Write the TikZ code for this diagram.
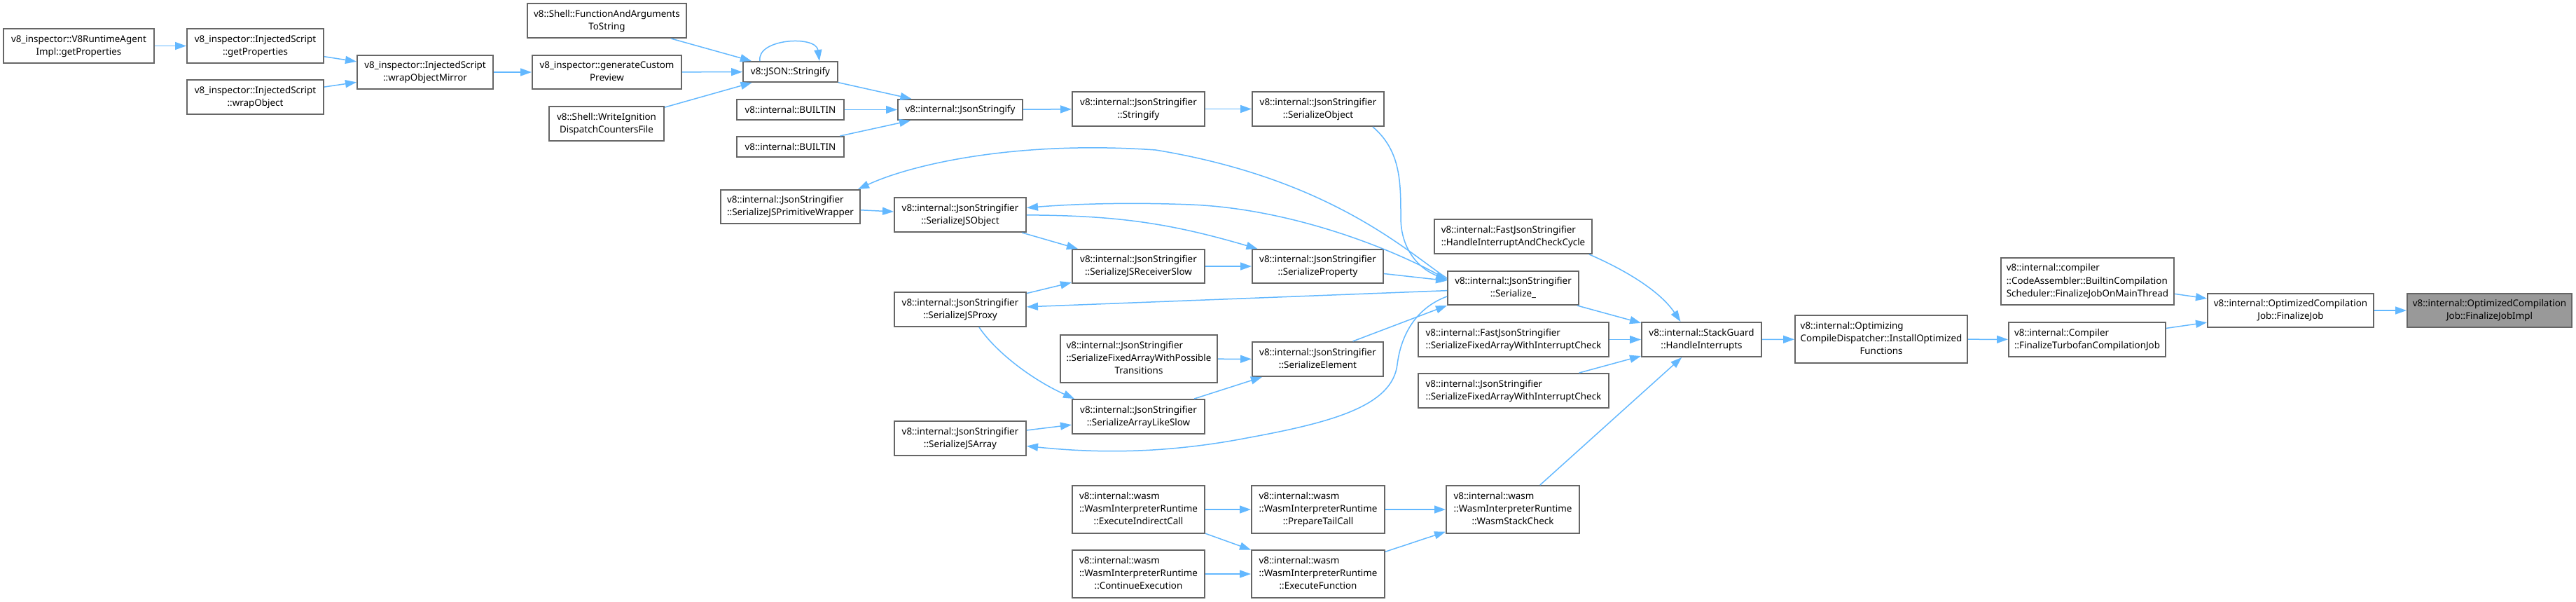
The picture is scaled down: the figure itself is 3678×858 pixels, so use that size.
\documentclass[tikz,border=0pt]{standalone}
\usepackage{fontspec}
\setmainfont{Noto Sans}
\usetikzlibrary{arrows.meta,calc}
\definecolor{edgec}{HTML}{63B8FF}
\definecolor{bord}{HTML}{666666}
\definecolor{hil}{HTML}{999999}
\newcommand\tl[2]{\begin{tabular}{@{}l@{}}#1\\\multicolumn{1}{@{}c@{}}{#2}\end{tabular}}
\newcommand\thl[3]{\begin{tabular}{@{}l@{}}#1\\#2\\\multicolumn{1}{@{}c@{}}{#3}\end{tabular}}
\newcommand\nd[7][]{\node[dbox,#1,minimum width={(#5-#3)*0.5pt},minimum height={(#6-#4)*0.5pt}] (#2) at ({(#3+#5)/2},{(#4+#6)/2}) {#7};}
\begin{document}
\begin{tikzpicture}[x=0.5pt,y=-0.5pt,
  dbox/.style={draw=bord,line width=1pt,fill=white,inner sep=0pt,font=\fontsize{6.7pt}{9.15pt}\selectfont},
  edg/.style={draw=edgec,line width=0.75pt,-{Triangle[length=8pt,width=5.5pt]}}]
\useasboundingbox (0,0) rectangle (3678,858);
% nodes
\nd{A1}{5}{41}{220}{90}{\tl{v8\_inspector::V8RuntimeAgent}{Impl::getProperties}}
\nd{B1}{267}{41}{462}{90}{\tl{v8\_inspector::InjectedScript}{::getProperties}}
\nd{B2}{267}{114}{462}{163}{\tl{v8\_inspector::InjectedScript}{::wrapObject}}
\nd{C}{510}{79}{704}{127}{\tl{v8\_inspector::InjectedScript}{::wrapObjectMirror}}
\nd{D}{760}{79}{973}{127}{\tl{v8\_inspector::generateCustom}{Preview}}
\nd{F1}{753}{5}{980}{54}{\tl{v8::Shell::FunctionAndArguments}{ToString}}
\nd{F2}{784}{152}{948}{201}{\tl{v8::Shell::WriteIgnition}{DispatchCountersFile}}
\nd{J}{1061}{88}{1196}{117}{v8::JSON::Stringify}
\nd{BU1}{1052}{142}{1205}{171}{v8::internal::BUILTIN}
\nd{BU2}{1052}{195}{1205}{224}{v8::internal::BUILTIN}
\nd{JS}{1282}{142}{1460}{171}{v8::internal::JsonStringify}
\nd{ST}{1531}{131}{1720}{180}{\tl{v8::internal::JsonStringifier}{::Stringify}}
\nd{SO}{1788}{131}{1976}{180}{\tl{v8::internal::JsonStringifier}{::SerializeObject}}
\nd{PW}{1029}{271}{1228}{319}{\tl{v8::internal::JsonStringifier}{::SerializeJSPrimitiveWrapper}}
\nd{JO}{1277}{282}{1465}{331}{\tl{v8::internal::JsonStringifier}{::SerializeJSObject}}
\nd{RS}{1531}{356}{1720}{404}{\tl{v8::internal::JsonStringifier}{::SerializeJSReceiverSlow}}
\nd{SP}{1788}{356}{1975}{404}{\tl{v8::internal::JsonStringifier}{::SerializeProperty}}
\nd{SZ}{2067}{387}{2254}{435}{\tl{v8::internal::JsonStringifier}{::Serialize\_}}
\nd{HC}{2048}{313}{2273}{362}{\tl{v8::internal::FastJsonStringifier}{::HandleInterruptAndCheckCycle}}
\nd{PX}{1277}{417}{1465}{466}{\tl{v8::internal::JsonStringifier}{::SerializeJSProxy}}
\nd{FT}{1514}{478}{1738}{546}{\thl{v8::internal::JsonStringifier}{::SerializeFixedArrayWithPossible}{Transitions}}
\nd{SE}{1788}{488}{1975}{537}{\tl{v8::internal::JsonStringifier}{::SerializeElement}}
\nd{AL}{1531}{570}{1720}{619}{\tl{v8::internal::JsonStringifier}{::SerializeArrayLikeSlow}}
\nd{JA}{1277}{601}{1465}{650}{\tl{v8::internal::JsonStringifier}{::SerializeJSArray}}
\nd{FF}{2025}{460}{2297}{509}{\tl{v8::internal::FastJsonStringifier}{::SerializeFixedArrayWithInterruptCheck}}
\nd{JF}{2025}{533}{2297}{582}{\tl{v8::internal::JsonStringifier}{::SerializeFixedArrayWithInterruptCheck}}
\nd{HI}{2344}{460}{2515}{509}{\tl{v8::internal::StackGuard}{::HandleInterrupts}}
\nd{IO}{2563}{450}{2809}{518}{\thl{v8::internal::Optimizing}{CompileDispatcher::InstallOptimized}{Functions}}
\nd{CA}{2857}{368}{3104}{435}{\thl{v8::internal::compiler}{::CodeAssembler::BuiltinCompilation}{Scheduler::FinalizeJobOnMainThread}}
\nd{FTC}{2868}{460}{3092}{509}{\tl{v8::internal::Compiler}{::FinalizeTurbofanCompilationJob}}
\nd{FJ}{3152}{419}{3389}{467}{\tl{v8::internal::OptimizedCompilation}{Job::FinalizeJob}}
\nd[fill=hil]{FI}{3437}{419}{3672}{467}{\tl{v8::internal::OptimizedCompilation}{Job::FinalizeJobImpl}}
\nd{W1}{1531}{693}{1720}{761}{\thl{v8::internal::wasm}{::WasmInterpreterRuntime}{::ExecuteIndirectCall}}
\nd{W2}{1787}{693}{1977}{761}{\thl{v8::internal::wasm}{::WasmInterpreterRuntime}{::PrepareTailCall}}
\nd{W3}{2065}{693}{2255}{761}{\thl{v8::internal::wasm}{::WasmInterpreterRuntime}{::WasmStackCheck}}
\nd{W4}{1531}{785}{1720}{853}{\thl{v8::internal::wasm}{::WasmInterpreterRuntime}{::ContinueExecution}}
\nd{W5}{1787}{785}{1977}{853}{\thl{v8::internal::wasm}{::WasmInterpreterRuntime}{::ExecuteFunction}}
% edges
\draw[edg] (A1) -- (B1);
\draw[edg] (B1) -- (C);
\draw[edg] (B2) -- (C);
\draw[edg] (C) -- (D);
\draw[edg] (D) -- (J);
\draw[edg] (F1) -- (J);
\draw[edg] (F2) -- (J);
\draw[edg] ($(J.north west)+(25,0)$) .. controls (1080,55) and (1165,50) .. ($(J.north east)+(-27,0)$);
\draw[edg] (J) -- (JS);
\draw[edg] (BU1) -- (JS);
\draw[edg] (BU2) -- (JS);
\draw[edg] (JS) -- (ST);
\draw[edg] (ST) -- (SO);
\draw[edg] ($(SO.south east)+(-17,0)$) .. controls (2000,215) and (2000,260) .. (2000,310) .. controls (2000,360) and (2030,385) .. ($(SZ.west)+(0,-12)$);
\draw[edg] (PW) -- (JO);
\draw[edg] (JO) -- (RS);
\draw[edg] (JO) to[bend left=8] (SP);
\draw[edg] (RS) -- (SP);
\draw[edg] (SP) -- (SZ);
\draw[edg] ($(SZ.west)+(0,-14)$) .. controls (2010,360) and (1900,255) .. (1650,214) .. controls (1450,200) and (1300,235) .. ($(PW.north east)+(-4,0)$);
\draw[edg] ($(SZ.west)+(0,-12)$) .. controls (2000,360) and (1850,298) .. (1700,292) .. controls (1600,288) and (1520,292) .. ($(JO.east)+(0,-10)$);
\draw[edg] (SZ) -- (PX);
\draw[edg] (PX) -- (RS);
\draw[edg] ($(PX.south)+(27,0)$) .. controls (1420,500) and (1470,540) .. ($(AL.north west)+(4,0)$);
\draw[edg] (JA) -- (AL);
\draw[edg] (FT) -- (SE);
\draw[edg] (AL) -- (SE);
\draw[edg] ($(SE.north)+(50,0)$) -- (SZ.south west);
\draw[edg] ($(SZ.west)+(0,12)$) .. controls (2020,440) and (2000,480) .. (1995,520) .. controls (1988,580) and (1900,603) .. (1780,625) .. controls (1650,650) and (1550,645) .. ($(JA.east)+(0,11)$);
\draw[edg] (SZ) -- (HI);
\draw[edg] ($(HC.south east)+(-5,0)$) .. controls (2320,385) and (2370,415) .. ($(HI.north)+(-30,0)$);
\draw[edg] (FF) -- (HI);
\draw[edg] (JF) -- (HI);
\draw[edg] (W3) -- (HI);
\draw[edg] (HI) -- (IO);
\draw[edg] (IO) -- (FTC);
\draw[edg] (FTC) -- (FJ);
\draw[edg] (CA) -- (FJ);
\draw[edg] (FJ) -- (FI);
\draw[edg] (W1) -- (W2);
\draw[edg] (W1) -- (W5);
\draw[edg] (W4) -- (W5);
\draw[edg] (W2) -- (W3);
\draw[edg] (W5) -- (W3);
\end{tikzpicture}
\end{document}
